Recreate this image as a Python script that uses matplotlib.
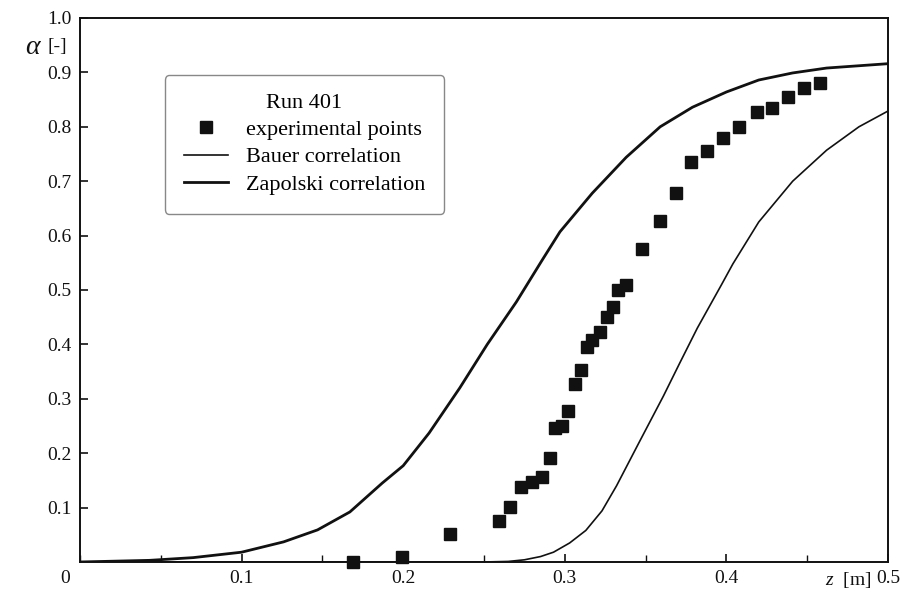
import matplotlib
matplotlib.use("Agg")
import matplotlib.pyplot as plt
from matplotlib.ticker import MultipleLocator, FixedLocator

plt.rcParams['font.family'] = ['Liberation Serif', 'DejaVu Serif']
plt.rcParams['mathtext.fontset'] = 'custom'
plt.rcParams['mathtext.rm'] = 'Liberation Serif'
plt.rcParams['mathtext.it'] = 'Liberation Serif:italic'

# Run 401: measured void fraction along the channel
z_exp = [0.169, 0.199, 0.229, 0.259, 0.266, 0.273, 0.280, 0.286, 0.291, 0.294,
         0.298, 0.302, 0.306, 0.310, 0.314, 0.317, 0.322, 0.326, 0.330, 0.333,
         0.338, 0.348, 0.359, 0.369, 0.378, 0.388, 0.398, 0.408, 0.419, 0.428,
         0.438, 0.448, 0.458]
alpha_exp = [0.000, 0.009, 0.051, 0.075, 0.101, 0.138, 0.147, 0.156, 0.191, 0.246,
             0.250, 0.278, 0.327, 0.353, 0.395, 0.408, 0.423, 0.450, 0.469, 0.500,
             0.509, 0.575, 0.627, 0.678, 0.735, 0.756, 0.779, 0.800, 0.827, 0.835,
             0.855, 0.871, 0.880]

# Bauer correlation
z_bauer = [0.0, 0.25, 0.265, 0.275, 0.285, 0.293, 0.303, 0.313, 0.323, 0.332,
           0.346, 0.361, 0.371, 0.382, 0.397, 0.404, 0.42, 0.441, 0.462, 0.482, 0.5]
alpha_bauer = [0.0, 0.0, 0.001, 0.004, 0.010, 0.018, 0.035, 0.058, 0.094, 0.14,
               0.22, 0.305, 0.365, 0.43, 0.51, 0.548, 0.625, 0.70, 0.757, 0.80, 0.829]

# Zapolski correlation
z_zap = [0.0, 0.043, 0.07, 0.1, 0.126, 0.147, 0.167, 0.187, 0.2, 0.216, 0.235,
         0.252, 0.27, 0.286, 0.297, 0.317, 0.338, 0.359, 0.379, 0.40, 0.42,
         0.441, 0.462, 0.5]
alpha_zap = [0.0, 0.003, 0.008, 0.018, 0.037, 0.059, 0.092, 0.145, 0.177, 0.237,
             0.32, 0.40, 0.478, 0.555, 0.607, 0.678, 0.744, 0.80, 0.836, 0.864,
             0.886, 0.899, 0.908, 0.916]

x_ticks = [0.1, 0.2, 0.3, 0.4, 0.5]
y_ticks = [0.1, 0.2, 0.3, 0.4, 0.5, 0.6, 0.7, 0.8, 0.9, 1.0]

fig = plt.figure(figsize=(9.01, 5.94), dpi=100)
ax = fig.add_axes([0.0888, 0.0539, 0.8968, 0.9158])

ax.plot(z_exp, alpha_exp, linestyle='none', marker='s', markersize=8.5,
        color='#111111', label='experimental points', clip_on=False, zorder=3)
ax.plot(z_bauer, alpha_bauer, color='#111111', linewidth=1.2,
        label='Bauer correlation', solid_joinstyle='round')
ax.plot(z_zap, alpha_zap, color='#111111', linewidth=2.0,
        label='Zapolski correlation', solid_joinstyle='round')

ax.set_xlim(0, 0.5)
ax.set_ylim(0, 1.0)
ax.xaxis.set_major_locator(FixedLocator(x_ticks))
ax.xaxis.set_minor_locator(MultipleLocator(0.05))
ax.yaxis.set_major_locator(FixedLocator(y_ticks))
ax.set_xticklabels([f'{v:.1f}' for v in x_ticks])
ax.set_yticklabels([f'{v:.1f}' for v in y_ticks])
ax.tick_params(axis='both', which='both', direction='in', labelsize=14,
               color='#111111', labelcolor='#111111')
ax.tick_params(axis='both', which='major', length=6, width=1.2, pad=6)
ax.tick_params(axis='x', which='minor', length=5, width=1.0)
for s in ax.spines.values():
    s.set_linewidth(1.4)
    s.set_color('#111111')

ax.text(-0.012, -0.015, '0', transform=ax.transAxes, ha='right', va='top',
        fontsize=14, color='#111111')
ax.text(-0.068, 0.945, r'$\alpha$', transform=ax.transAxes, ha='left',
        va='center', fontsize=20, color='#111111')
ax.text(-0.04, 0.947, '[-]', transform=ax.transAxes, ha='left',
        va='center', fontsize=14, color='#111111')
ax.text(0.95, -0.033, r'$z$  [m]', transform=ax.transAxes, ha='center',
        va='center', fontsize=14, color='#111111')

leg = ax.legend(loc='upper left', bbox_to_anchor=(0.105, 0.895),
                borderaxespad=0, title='Run 401', fontsize=16,
                title_fontsize=16, fancybox=True, framealpha=1,
                edgecolor='#888888', handlelength=2.0, borderpad=0.85,
                labelspacing=0.3, handletextpad=0.8, markerscale=1.0)
leg.get_frame().set_linewidth(1.0)

fig.savefig('out.png', dpi=100)
